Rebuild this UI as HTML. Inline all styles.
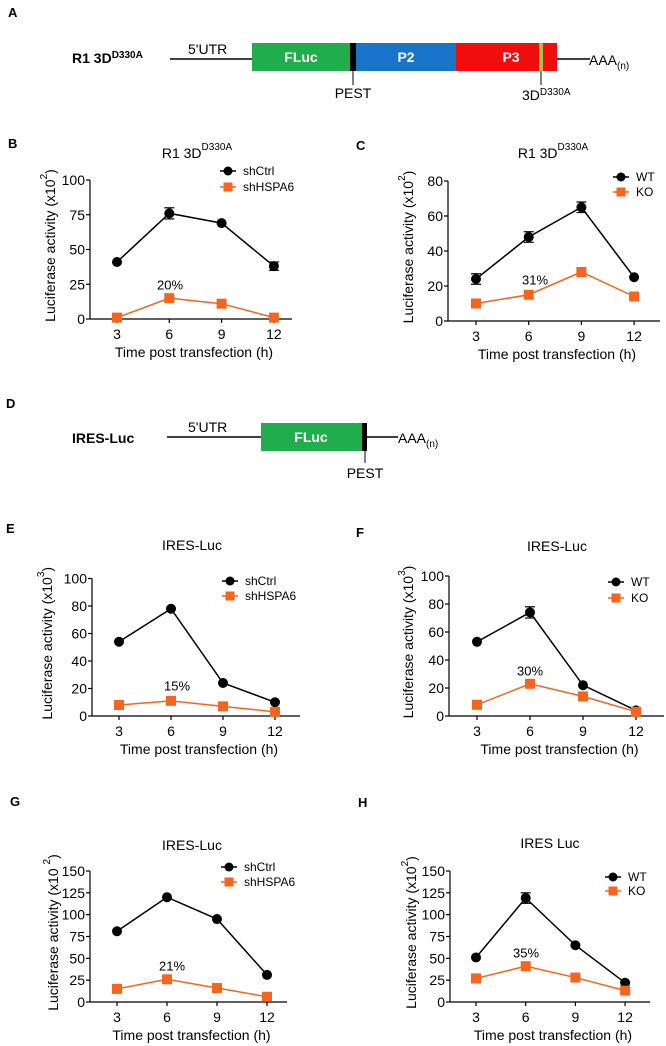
<!DOCTYPE html>
<html><head><meta charset="utf-8">
<style>
html,body{margin:0;padding:0;background:#fff;}
svg{display:block;font-family:"Liberation Sans",Arial,sans-serif;}
</style></head>
<body>
<svg id="fig" width="666" height="1046" viewBox="0 0 666 1046" xmlns="http://www.w3.org/2000/svg">
  <!-- Panel A -->
  <g>
    <text x="8" y="17" font-size="13" font-weight="bold">A</text>
    <text x="72" y="63" font-size="14" font-weight="bold">R1 3D<tspan font-size="10" dy="-5">D330A</tspan></text>
    <line x1="170" y1="59" x2="252" y2="59" stroke="#000" stroke-width="1.5"/>
    <text x="188" y="54" font-size="14">5'UTR</text>
    <rect x="252" y="43" width="98" height="28" fill="#1fae4b"/>
    <text x="301" y="62" font-size="14" font-weight="bold" fill="#fff" text-anchor="middle">FLuc</text>
    <rect x="350" y="43" width="6" height="28" fill="#000"/>
    <rect x="356" y="43" width="100" height="28" fill="#1874c8"/>
    <text x="406" y="62" font-size="14" font-weight="bold" fill="#fff" text-anchor="middle">P2</text>
    <rect x="456" y="43" width="101" height="28" fill="#f20d0d"/>
    <text x="511" y="62" font-size="14" font-weight="bold" fill="#fff" text-anchor="middle">P3</text>
    <rect x="539" y="43" width="4" height="28" fill="#a9c04a"/>
    <line x1="557" y1="59" x2="590" y2="59" stroke="#000" stroke-width="1.5"/>
    <text x="589" y="65" font-size="14">AAA<tspan font-size="10" dy="4">(n)</tspan></text>
    <line x1="353" y1="71" x2="353" y2="85" stroke="#000" stroke-width="1"/>
    <text x="353" y="98" font-size="14" text-anchor="middle">PEST</text>
    <line x1="541" y1="71" x2="541" y2="85" stroke="#000" stroke-width="1"/>
    <text x="522" y="100" font-size="14">3D<tspan font-size="10" dy="-5">D330A</tspan></text>
  </g>
  <!-- Panel D -->
  <g>
    <text x="6" y="408" font-size="13" font-weight="bold">D</text>
    <text x="72" y="443" font-size="14" font-weight="bold">IRES-Luc</text>
    <line x1="167" y1="437" x2="261" y2="437" stroke="#000" stroke-width="1.5"/>
    <text x="188" y="432" font-size="14">5'UTR</text>
    <rect x="261" y="423" width="101" height="28" fill="#1fae4b"/>
    <text x="311" y="442" font-size="14" font-weight="bold" fill="#fff" text-anchor="middle">FLuc</text>
    <rect x="362" y="423" width="5" height="28" fill="#000"/>
    <line x1="367" y1="437" x2="398" y2="437" stroke="#000" stroke-width="1.5"/>
    <text x="398" y="443" font-size="14">AAA<tspan font-size="10" dy="4">(n)</tspan></text>
    <line x1="365" y1="451" x2="365" y2="463" stroke="#000" stroke-width="1"/>
    <text x="365" y="478" font-size="14" text-anchor="middle">PEST</text>
  </g>
</svg>
<script>
// ---- data ----
const timePoints = [3, 6, 9, 12];
const bCtrl = [41, 76, 69, 38];
const bCtrlErr = [1, 4, 1, 3];
const bKd = [1, 15, 11, 1];
const cWT = [24, 48, 65, 25];
const cWTErr = [3, 3, 3, 1];
const cKO = [10, 15, 28, 14];
const eCtrl = [54, 78, 24, 10];
const eKd = [8, 11, 7, 3];
const fWT = [53, 74, 22, 4];
const fWTErr = [1, 4, 1, 1];
const fKO = [8, 23, 14, 3];
const gCtrl = [81, 120, 95, 31];
const gKd = [15, 26, 16, 6];
const hWT = [51, 119, 65, 22];
const hWTErr = [1, 6, 1, 1];
const hKO = [27, 41, 28, 13];
const ticks100by25 = [0, 25, 50, 75, 100];
const ticks80by20 = [0, 20, 40, 60, 80];
const ticks100by20 = [0, 20, 40, 60, 80, 100];
const ticks150by25 = [0, 25, 50, 75, 100, 125, 150];
const pctB = "20%", pctC = "31%", pctE = "15%", pctF = "30%", pctG = "21%", pctH = "35%";

const NS = "http://www.w3.org/2000/svg";
const svg = document.getElementById('fig');
function mk(tag, attrs, parent, txt) {
  const e = document.createElementNS(NS, tag);
  for (const k in attrs) e.setAttribute(k, attrs[k]);
  if (txt !== undefined) e.textContent = txt;
  parent.appendChild(e);
  return e;
}
const ORANGE = "#f5651e";

function panel(p) {
  const g = mk('g', {}, svg);
  
  
  const xs = v => p.x0 + (v - 3) / 3 * p.dx;
  const ys = v => p.y0 - v / p.ymax * (p.y0 - p.ytop);
  const letter = mk('text', {x: p.lx, y: p.ly, 'font-size': 13, 'font-weight': 'bold'}, g, p.id.toUpperCase());
  
  
  const title = mk('text', {x: p.tx, y: p.ty, 'font-size': 14, 'text-anchor': 'middle', 'dominant-baseline': 'central'}, g, p.title);
  if (p.sup) { mk('tspan', {'font-size': 10, dy: -6}, title, p.sup); }
  
  
  const ya = mk('line', {x1: p.ax, y1: p.ytop, x2: p.ax, y2: p.y0, stroke: '#000', 'stroke-width': 1.2}, g);
  
  
  const xa = mk('line', {x1: p.ax, y1: p.y0, x2: p.xend, y2: p.y0, stroke: '#000', 'stroke-width': 1.2}, g);
  
  
  p.ticks.forEach(t => {
    mk('line', {x1: p.ax - 4, y1: ys(t), x2: p.ax, y2: ys(t), stroke: '#000', 'stroke-width': 1.2}, g);
    const tl = mk('text', {x: p.ax - 5, y: ys(t), 'font-size': 14, 'text-anchor': 'end', 'dominant-baseline': 'central'}, g, String(t));
    
    
  });
  timePoints.forEach(t => {
    mk('line', {x1: xs(t), y1: p.y0, x2: xs(t), y2: p.y0 + 4, stroke: '#000', 'stroke-width': 1.2}, g);
    const tl = mk('text', {x: xs(t), y: p.y0 + 15, 'font-size': 14, 'text-anchor': 'middle', 'dominant-baseline': 'central'}, g, String(t));
    
    
  });
  const xt = mk('text', {x: (p.ax + p.xend) / 2 + 3, y: p.y0 + 33, 'font-size': 14, 'text-anchor': 'middle', 'dominant-baseline': 'central'}, g, 'Time post transfection (h)');
  
  
  const yc = (p.ytop + p.y0) / 2 - 4;
  const yt = mk('text', {x: p.ylx, y: yc, 'font-size': 14, 'text-anchor': 'middle', 'dominant-baseline': 'central', transform: 'rotate(-90 ' + p.ylx + ' ' + yc + ')'}, g, 'Luciferase activity (x10' + (p.ysp ? ' ' : ''));
  mk('tspan', {'font-size': 10, dy: -6}, yt, p.exp);
  mk('tspan', {dy: 6}, yt, ')');
  
  
  function series(vals, errs, color, shape, name) {
    const sg = mk('g', {}, g);
    
    
    mk('polyline', {points: vals.map((v, i) => xs(timePoints[i]) + ',' + ys(v)).join(' '), fill: 'none', stroke: color, 'stroke-width': 1.5}, sg);
    vals.forEach((v, i) => {
      const cx = xs(timePoints[i]), cy = ys(v);
      if (errs && errs[i] > 1) {
        mk('line', {x1: cx, y1: ys(v - errs[i]), x2: cx, y2: ys(v + errs[i]), stroke: color, 'stroke-width': 1.2}, sg);
        mk('line', {x1: cx - 5, y1: ys(v + errs[i]), x2: cx + 5, y2: ys(v + errs[i]), stroke: color, 'stroke-width': 1.2}, sg);
        mk('line', {x1: cx - 5, y1: ys(v - errs[i]), x2: cx + 5, y2: ys(v - errs[i]), stroke: color, 'stroke-width': 1.2}, sg);
      }
      let m;
      if (shape === 'c') m = mk('circle', {cx: cx, cy: cy, r: 5, fill: color}, sg);
      else m = mk('rect', {x: cx - 5, y: cy - 5, width: 10, height: 10, fill: color}, sg);
      
      
    });
  }
  series(p.s1, p.e1, '#000', 'c', p.n1.toLowerCase());
  series(p.s2, null, ORANGE, 's', p.n2.toLowerCase());
  [[p.n1, '#000', 'c', p.lg1], [p.n2, ORANGE, 's', p.lg2]].forEach(([n, col, sh, ly]) => {
    const lg = mk('g', {}, g);
    
    
    mk('line', {x1: p.lgx - 8, y1: ly, x2: p.lgx + 8, y2: ly, stroke: col, 'stroke-width': 1.5}, lg);
    if (sh === 'c') mk('circle', {cx: p.lgx, cy: ly, r: 4.5, fill: col}, lg);
    else mk('rect', {x: p.lgx - 4.5, y: ly - 4.5, width: 9, height: 9, fill: col}, lg);
    mk('text', {x: p.lgx + 15, y: ly, 'font-size': 12, 'dominant-baseline': 'central'}, lg, n);
  });
  const pt = mk('text', {x: p.px, y: p.py, 'font-size': 13, 'text-anchor': 'middle', 'dominant-baseline': 'central'}, g, p.pct);
  
  
}

panel({id: 'b', lx: 8, ly: 148, tx: 197, ty: 153, title: 'R1 3D', sup: 'D330A', ax: 90, x0: 117, dx: 52.3, y0: 319, ytop: 180, ymax: 100, ticks: ticks100by25, xend: 292, ylx: 50, exp: '2', s1: bCtrl, e1: bCtrlErr, s2: bKd, n1: 'shCtrl', n2: 'shHSPA6', lgx: 228, lg1: 171, lg2: 187, pct: pctB, px: 170, py: 285});
panel({id: 'c', lx: 356, ly: 150, tx: 553, ty: 153, title: 'R1 3D', sup: 'D330A', ax: 448, x0: 476, dx: 52.7, y0: 321, ytop: 181, ymax: 80, ticks: ticks80by20, xend: 660, ylx: 408, exp: '2', s1: cWT, e1: cWTErr, s2: cKO, n1: 'WT', n2: 'KO', lgx: 621, lg1: 177, lg2: 192, pct: pctC, px: 535, py: 280});
panel({id: 'e', lx: 6, ly: 533, tx: 192, ty: 545, title: 'IRES-Luc', ax: 92, x0: 119, dx: 52, y0: 716, ytop: 578.5, ymax: 100, ticks: ticks100by20, xend: 300, ylx: 47, exp: '3', s1: eCtrl, e1: null, s2: eKd, n1: 'shCtrl', n2: 'shHSPA6', lgx: 230, lg1: 581, lg2: 596, pct: pctE, px: 177, py: 686});
panel({id: 'f', lx: 356, ly: 537, tx: 557, ty: 546, title: 'IRES-Luc', ax: 449, x0: 477, dx: 53, y0: 716, ytop: 576, ymax: 100, ticks: ticks100by20, xend: 664, ylx: 408, exp: '3', s1: fWT, e1: fWTErr, s2: fKO, n1: 'WT', n2: 'KO', lgx: 616, lg1: 582, lg2: 598, pct: pctF, px: 530, py: 671});
panel({id: 'g', lx: 10, ly: 806, tx: 192, ty: 845, title: 'IRES-Luc', ax: 90, x0: 117, dx: 50, y0: 1002, ytop: 871, ymax: 150, ticks: ticks150by25, xend: 287, ylx: 53, exp: '2', ysp: true, s1: gCtrl, e1: null, s2: gKd, n1: 'shCtrl', n2: 'shHSPA6', lgx: 229, lg1: 867, lg2: 882, pct: pctG, px: 172, py: 966});
panel({id: 'h', lx: 358, ly: 807, tx: 550, ty: 843, title: 'IRES Luc', ax: 450, x0: 476, dx: 49.7, y0: 1002, ytop: 871, ymax: 150, ticks: ticks150by25, xend: 650, ylx: 411, exp: '2', s1: hWT, e1: hWTErr, s2: hKO, n1: 'WT', n2: 'KO', lgx: 613, lg1: 877, lg2: 891, pct: pctH, px: 526, py: 953});
</script>
</body></html>
